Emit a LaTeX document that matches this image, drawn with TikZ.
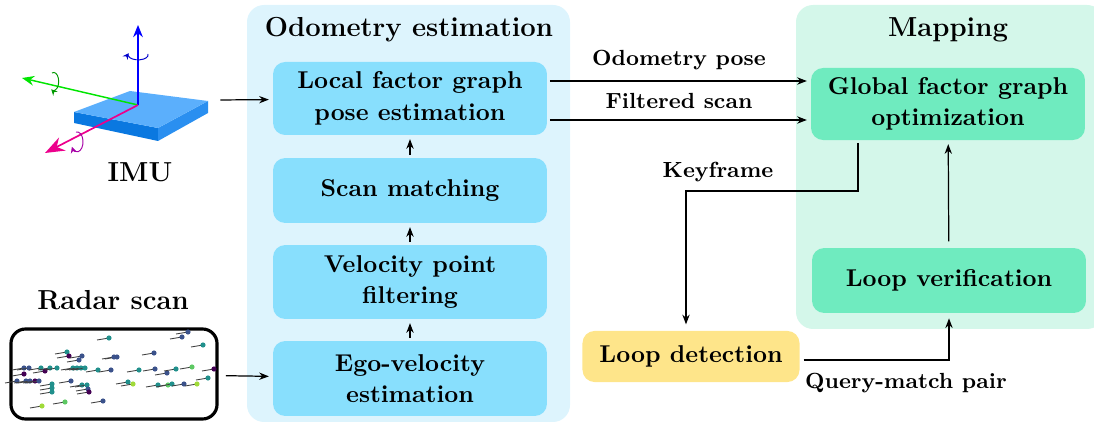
\documentclass[tikz,border=0pt]{standalone}
\usepackage{amsmath, amssymb}
\usetikzlibrary{arrows.meta,positioning}

\definecolor{odomback}{HTML}{DDF4FD}
\definecolor{odombox}{HTML}{88DFFD}
\definecolor{mapback}{HTML}{D4F7EA}
\definecolor{mapbox}{HTML}{6FEBBF}
\definecolor{loopbox}{HTML}{FEE58A}
\definecolor{slabtop}{HTML}{5BAFFC}
\definecolor{slabfront}{HTML}{0A78E0}
\definecolor{slabside}{HTML}{2A8FF0}
% viridis shades for the radar points
\definecolor{vA}{HTML}{440154}
\definecolor{vB}{HTML}{3B528B}
\definecolor{vC}{HTML}{21908C}
\definecolor{vD}{HTML}{5DC863}
\definecolor{vE}{HTML}{A0DA39}

\tikzset{
  stage/.style={fill=odombox, rounded corners=5pt, minimum width=112.6pt,
    minimum height=30pt, inner sep=0pt, align=center,
    font=\bfseries\fontsize{10}{13}\selectfont},
  mapstage/.style={stage, fill=mapbox},
  flow/.style={-{Stealth[length=4pt,width=3pt]}, line width=0.5pt,
    shorten <=1pt, shorten >=1.5pt},
  lbl/.style={font=\bfseries\fontsize{9}{11}\selectfont},
  heading/.style={font=\bfseries\fontsize{11.3}{13}\selectfont},
}

\begin{document}
\begin{tikzpicture}[x=0.411pt,y=-0.411pt]
\useasboundingbox (0,0) rectangle (1094,423);

% panels
\fill[odomback, rounded corners=7pt] (247,5) rectangle (570,422);
\fill[mapback, rounded corners=7pt] (796,5) rectangle (1104,329);
\node[heading] (odomtitle) at (409,30) {Odometry estimation};
\node[heading] (maptitle) at (948,30) {Mapping};

% odometry stages
\node[stage, minimum height=30pt] (local) at (410,98.5) {Local factor graph\\pose estimation};
\node[stage, minimum height=26.7pt] (scan) at (410,190.5) {Scan matching};
\node[stage, minimum height=30.4pt] (velo) at (410,282) {Velocity point\\filtering};
\node[stage, minimum height=30.8pt] (ego) at (410,378.5) {Ego-velocity\\estimation};

% mapping stages
\node[mapstage, minimum height=29.6pt] (global) at (948,104) {Global factor graph\\optimization};
\node[mapstage, minimum height=26.7pt] (verify) at (949,280.5) {Loop verification};
\node[stage, fill=loopbox, minimum width=89.2pt, minimum height=21pt] (loopdet) at (691,356.5) {Loop detection};

% imu slab with its axes
\fill[slabfront] (74,112) -- (158,128) -- (158,141) -- (74,123) -- cycle;
\fill[slabside] (158,128) -- (208,101) -- (208,113) -- (158,141) -- cycle;
\fill[slabtop] (74,112) -- (130,91) -- (208,101) -- (158,128) -- cycle;
\coordinate (origin) at (138,105);
\draw[green!90!black, line width=0.6pt, -{Stealth[length=5pt,width=4pt]}] (origin) -- (22,78);
\draw[blue, line width=0.6pt, -{Stealth[length=5pt,width=4pt]}] (origin) -- (138,25);
\draw[magenta, line width=0.7pt, -{Stealth[length=8pt,width=6pt]}] (origin) -- (45,153);
\draw[blue!80!black, line width=0.4pt, -{Stealth[length=2.5pt,width=2.5pt]}]
  (148,54) arc[start angle=-10, end angle=200, x radius=10, y radius=5];
\draw[green!60!black, line width=0.4pt, -{Stealth[length=2.5pt,width=2.5pt]}]
  (52,73) arc[start angle=-110, end angle=120, x radius=5, y radius=9];
\draw[violet!70!magenta, line width=0.4pt, -{Stealth[length=2.5pt,width=2.5pt]}]
  (76,132) arc[start angle=-100, end angle=150, x radius=6, y radius=10];
\coordinate (imu) at (218,100);
\node[heading] (imulabel) at (140,172) {IMU};

% radar scan
\node[heading] (radarlabel) at (113,300) {Radar scan};
\node[draw, line width=1.3pt, rounded corners=6pt, minimum width=84.7pt,
  minimum height=37pt] (radar) at (114,374) {};
\foreach \x/\y/\c in {188/332/vB, 182/337/vB, 109/338/vC, 203/345/vC,
  67/352/vC, 69/356/vA, 82/356/vB, 79/360/vB, 117/357/vB, 114/357/vB,
  154/353/vB, 24/368/vB, 29/368/vB, 41/368/vC, 45/371/vA, 50/368/vC,
  57/368/vC, 73/368/vC, 77/368/vC, 81/368/vC, 85/368/vC, 98/370/vC,
  111/370/vB, 139/370/vC, 155/369/vB, 167/373/vB, 176/369/vC, 192/367/vD,
  214/369/vA, 24/374/vA, 17/381/vB, 26/381/vB, 30/381/vB, 35/381/vA,
  39/381/vB, 52/384/vC, 52/388/vC, 52/392/vC, 71/381/vB, 82/385/vC,
  87/385/vC, 88/389/vB, 89/392/vA, 128/382/vC, 133/384/vE, 158/385/vC,
  168/385/vD, 172/384/vC, 184/384/vB, 197/384/vE, 208/378/vC, 42/406/vE,
  65/402/vD, 103/401/vB} {
  \draw[black!75, line width=0.35pt] (\x,\y) -- ++(-12,2);
  \fill[\c] (\x,\y) circle[radius=2.6];
}

% connections
\draw[flow] (imu) -- (local);
\draw[flow, shorten <=3pt] (radar) -- (ego);
\draw[flow] (ego) -- (velo);
\draw[flow] (velo) -- (scan);
\draw[flow] (scan) -- (local);
\draw[flow] (local.east |- 0,81) -- (global.west |- 0,81)
  node[lbl, midway, above=1pt] (odomlbl) {Odometry pose};
\draw[flow] (local.east |- 0,120) -- (global.west |- 0,120)
  node[lbl, midway, above=1pt] (filtlbl) {Filtered scan};
\draw[flow, shorten >=2.5pt] (global.south -| 858,0) -- (858,191) -- (686,191)
  -- (loopdet.north -| 686,0);
\node[lbl] (keylbl) at (718,172) {Keyframe};
\draw[flow, shorten <=1.5pt, shorten >=2pt] (loopdet.east |- 0,360) -- (949,360) -- (verify.south);
\node[lbl] (querylbl) at (906,383) {Query-match pair};
\draw[flow, shorten <=2.5pt] (verify) -- (global);
\end{tikzpicture}
\end{document}
